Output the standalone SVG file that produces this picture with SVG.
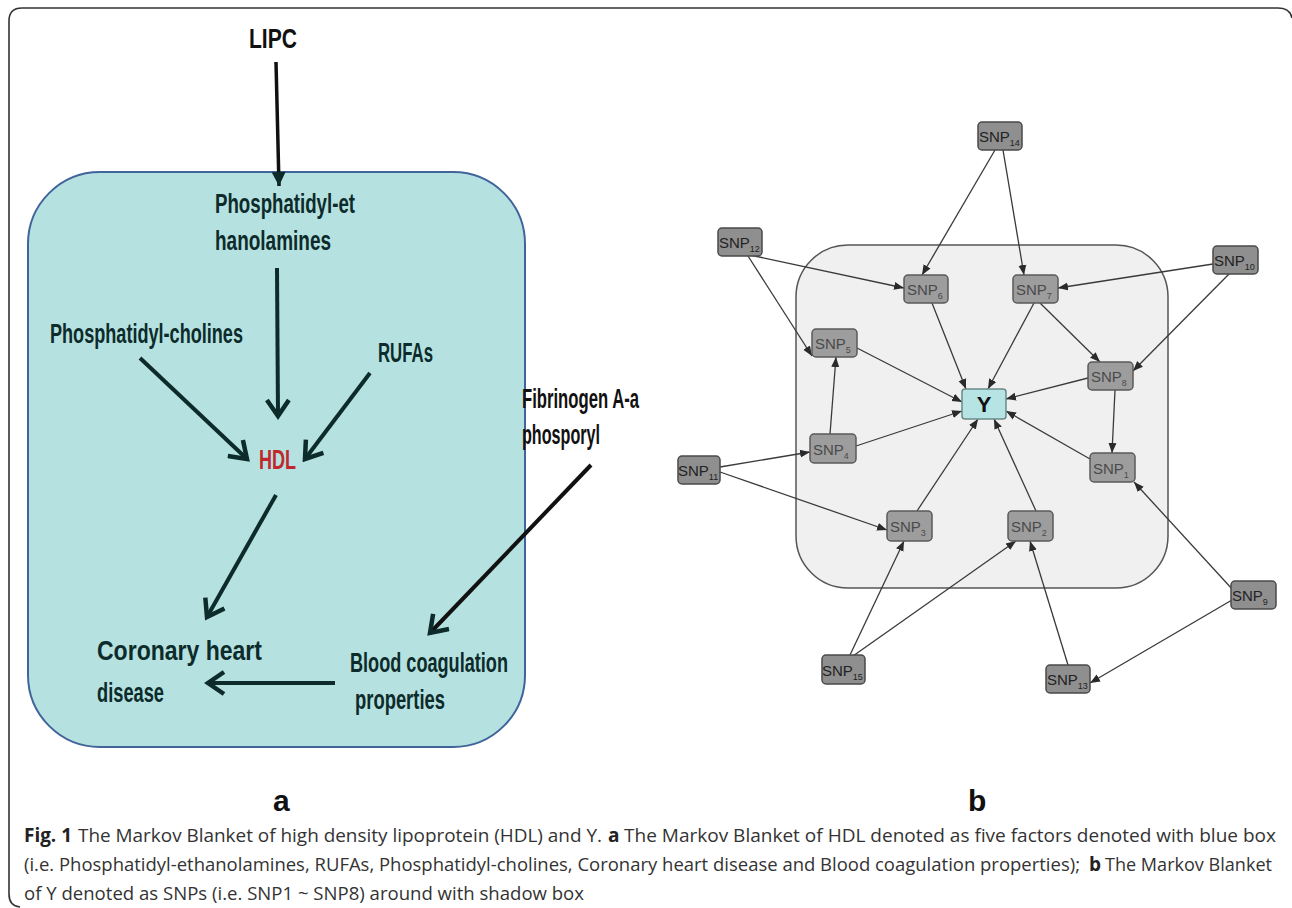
<svg xmlns="http://www.w3.org/2000/svg" width="1292" height="908" viewBox="0 0 1292 908">
<style>
.lbl{font-family:"Liberation Sans",Arial,sans-serif;font-weight:bold;font-size:27px;fill:#0d2b2b}
.arr{stroke:#0d2b2b;stroke-width:4;fill:none}
.e{stroke:#3a3a3a;stroke-width:1.3;fill:none;marker-end:url(#tri)}
.node rect{fill:#8f8f8f;stroke:#4a4a4a;stroke-width:1.5}
.inner rect{fill:#9d9d9d;stroke:#5a5a5a}
.snp{font-family:"Liberation Sans",Arial,sans-serif;font-size:15px;fill:#222}
.inner .snp{fill:#4a4a4a}
.sub{font-size:9px}
.cap{font-family:"Open Sans","Liberation Sans",sans-serif;font-size:19px;fill:#333}
.capb{font-family:"Open Sans","Liberation Sans",sans-serif;font-size:19px;font-weight:bold;fill:#222}
.panel{font-family:"Liberation Sans",Arial,sans-serif;font-weight:bold;font-size:30px;fill:#111}
</style>
<defs>
<marker id="chev" markerUnits="userSpaceOnUse" markerWidth="26" markerHeight="26" viewBox="0 0 26 26" refX="22" refY="13" orient="auto">
<path d="M6,2 L22,13 L6,24" stroke="#0d2b2b" stroke-width="4.5" fill="none"/>
</marker>
<marker id="blk" markerUnits="userSpaceOnUse" markerWidth="18" markerHeight="18" viewBox="0 0 18 18" refX="16" refY="9" orient="auto">
<path d="M2,2 L16,9 L2,16 Z" fill="#0d2b2b"/>
</marker>
<marker id="tri" markerUnits="userSpaceOnUse" markerWidth="10" markerHeight="10" viewBox="0 0 10 10" refX="10" refY="5" orient="auto">
<path d="M0,1 L10,5 L0,9 Z" fill="#2a2a2a"/>
</marker>
</defs>
<rect width="1292" height="908" fill="#ffffff"/>
<path d="M1292,18 Q1290,8 1278,8 L22,8 Q9,8 9,21 L9,894 Q9,906 20,907" fill="none" stroke="#333" stroke-width="1.6"/>

<!-- Panel a -->
<g id="blue-box"><rect x="28" y="172" width="497" height="575" rx="72" ry="72" fill="#b5e2e0" stroke="#41649a" stroke-width="2"/></g>
<g id="connectors-a">
<line x1="276" y1="62" x2="279" y2="186" stroke="#111" stroke-width="3.5" marker-end="url(#blk)"/>
<line class="arr" x1="277" y1="268" x2="278" y2="416" marker-end="url(#chev)"/>
<line class="arr" x1="140" y1="358" x2="247" y2="459" marker-end="url(#chev)"/>
<line class="arr" x1="370" y1="373" x2="305" y2="459" marker-end="url(#chev)"/>
<line class="arr" x1="276" y1="495" x2="207" y2="617" marker-end="url(#chev)"/>
<line x1="591" y1="465" x2="430" y2="633" stroke="#111" stroke-width="4" marker-end="url(#chev)"/>
<line class="arr" x1="335" y1="683" x2="208" y2="683" stroke-width="5" marker-end="url(#chev)"/>
</g>
<g id="n-lipc"><text class="lbl" x="249" y="48" style="fill:#111" textLength="48" lengthAdjust="spacingAndGlyphs">LIPC</text></g>
<g id="n-pe"><text class="lbl" x="215" y="213" textLength="140" lengthAdjust="spacingAndGlyphs">Phosphatidyl-et</text><text class="lbl" x="215" y="250" textLength="116" lengthAdjust="spacingAndGlyphs">hanolamines</text></g>
<g id="n-pc"><text class="lbl" x="50" y="343" textLength="193" lengthAdjust="spacingAndGlyphs">Phosphatidyl-cholines</text></g>
<g id="n-rufa"><text class="lbl" x="378" y="362" textLength="55" lengthAdjust="spacingAndGlyphs">RUFAs</text></g>
<g id="n-hdl"><text class="lbl" x="259" y="469" style="fill:#c1272d" textLength="37" lengthAdjust="spacingAndGlyphs">HDL</text></g>
<g id="n-fib"><text class="lbl" x="522" y="408" style="fill:#111" textLength="117" lengthAdjust="spacingAndGlyphs">Fibrinogen A-a</text><text class="lbl" x="522" y="444" style="fill:#111" textLength="78" lengthAdjust="spacingAndGlyphs">phosporyl</text></g>
<g id="n-chd"><text class="lbl" x="97" y="660" textLength="165" lengthAdjust="spacingAndGlyphs">Coronary heart</text><text class="lbl" x="97" y="702" textLength="67" lengthAdjust="spacingAndGlyphs">disease</text></g>
<g id="n-blood"><text class="lbl" x="350" y="672" textLength="158" lengthAdjust="spacingAndGlyphs">Blood coagulation</text><text class="lbl" x="355" y="709" textLength="90" lengthAdjust="spacingAndGlyphs">properties</text></g>
<text class="panel" x="273" y="811">a</text>
<text class="panel" x="968" y="811">b</text>

<!-- Panel b -->
<g id="gray-box"><rect x="796" y="245" width="372" height="343" rx="52" ry="52" fill="#f0f0f0" stroke="#555" stroke-width="1.5"/></g>
<g id="connectors-b">
<line class="e" x1="995" y1="150" x2="922" y2="275"/>
<line class="e" x1="1003" y1="150" x2="1024" y2="275"/>
<line class="e" x1="750" y1="255" x2="904" y2="288"/>
<line class="e" x1="748" y1="256" x2="812" y2="356"/>
<line class="e" x1="1213" y1="264" x2="1058" y2="288"/>
<line class="e" x1="1230" y1="273" x2="1133" y2="371"/>
<line class="e" x1="932" y1="303" x2="966" y2="389"/>
<line class="e" x1="1034" y1="303" x2="988" y2="389"/>
<line class="e" x1="1040" y1="303" x2="1100" y2="362"/>
<line class="e" x1="857" y1="348" x2="962" y2="402"/>
<line class="e" x1="830" y1="434" x2="836" y2="357"/>
<line class="e" x1="856" y1="446" x2="962" y2="411"/>
<line class="e" x1="1088" y1="378" x2="1006" y2="399"/>
<line class="e" x1="1115" y1="390" x2="1112" y2="453"/>
<line class="e" x1="720" y1="467" x2="810" y2="452"/>
<line class="e" x1="720" y1="472" x2="887" y2="530"/>
<line class="e" x1="1090" y1="459" x2="1006" y2="411"/>
<line class="e" x1="917" y1="511" x2="978" y2="419"/>
<line class="e" x1="1036" y1="511" x2="994" y2="419"/>
<line class="e" x1="850" y1="655" x2="904" y2="541"/>
<line class="e" x1="853" y1="656" x2="1016" y2="541"/>
<line class="e" x1="1068" y1="665" x2="1030" y2="541"/>
<line class="e" x1="1233" y1="590" x2="1134" y2="482"/>
<line class="e" x1="1232" y1="600" x2="1090" y2="683"/>
</g>
<g id="n-snp14" class="node"><rect x="978" y="122" width="44" height="28" rx="4"/><text class="snp" x="979" y="142">SNP<tspan class="sub" dy="4">14</tspan></text></g>
<g id="n-snp12" class="node"><rect x="718" y="228" width="44" height="28" rx="4"/><text class="snp" x="719" y="248">SNP<tspan class="sub" dy="4">12</tspan></text></g>
<g id="n-snp10" class="node"><rect x="1213" y="246" width="45" height="28" rx="4"/><text class="snp" x="1214" y="266">SNP<tspan class="sub" dy="4">10</tspan></text></g>
<g id="n-snp6" class="node inner"><rect x="904" y="275" width="44" height="28" rx="4"/><text class="snp" x="907" y="295">SNP<tspan class="sub" dy="4">6</tspan></text></g>
<g id="n-snp7" class="node inner"><rect x="1013" y="275" width="45" height="28" rx="4"/><text class="snp" x="1016" y="295">SNP<tspan class="sub" dy="4">7</tspan></text></g>
<g id="n-snp5" class="node inner"><rect x="812" y="329" width="45" height="28" rx="4"/><text class="snp" x="815" y="349">SNP<tspan class="sub" dy="4">5</tspan></text></g>
<g id="n-snp8" class="node inner"><rect x="1088" y="362" width="45" height="28" rx="4"/><text class="snp" x="1091" y="382">SNP<tspan class="sub" dy="4">8</tspan></text></g>
<g id="n-y" class="node"><rect x="962" y="389" width="44" height="30" rx="3" style="fill:#b6e3e3;stroke:#6a8a8a"/><text x="984" y="412" text-anchor="middle" font-family="Liberation Sans, Arial, sans-serif" font-weight="bold" font-size="22" fill="#111">Y</text></g>
<g id="n-snp4" class="node inner"><rect x="810" y="434" width="46" height="29" rx="4"/><text class="snp" x="813" y="455">SNP<tspan class="sub" dy="4">4</tspan></text></g>
<g id="n-snp11" class="node"><rect x="678" y="456" width="42" height="28" rx="4"/><text class="snp" x="678" y="476">SNP<tspan class="sub" dy="4">11</tspan></text></g>
<g id="n-snp1" class="node inner"><rect x="1090" y="453" width="45" height="29" rx="4"/><text class="snp" x="1093" y="474">SNP<tspan class="sub" dy="4">1</tspan></text></g>
<g id="n-snp3" class="node inner"><rect x="887" y="511" width="45" height="30" rx="4"/><text class="snp" x="890" y="532">SNP<tspan class="sub" dy="4">3</tspan></text></g>
<g id="n-snp2" class="node inner"><rect x="1008" y="511" width="45" height="30" rx="4"/><text class="snp" x="1011" y="532">SNP<tspan class="sub" dy="4">2</tspan></text></g>
<g id="n-snp9" class="node"><rect x="1231" y="581" width="45" height="28" rx="4"/><text class="snp" x="1232" y="601">SNP<tspan class="sub" dy="4">9</tspan></text></g>
<g id="n-snp15" class="node"><rect x="822" y="655" width="43" height="29" rx="4"/><text class="snp" x="822" y="676">SNP<tspan class="sub" dy="4">15</tspan></text></g>
<g id="n-snp13" class="node"><rect x="1046" y="665" width="44" height="28" rx="4"/><text class="snp" x="1047" y="685">SNP<tspan class="sub" dy="4">13</tspan></text></g>

<!-- Caption -->
<g id="caption">
<text class="capb" x="24" y="842" textLength="48" lengthAdjust="spacingAndGlyphs">Fig. 1</text>
<text class="cap" x="78" y="842" textLength="524" lengthAdjust="spacingAndGlyphs">The Markov Blanket of high density lipoprotein (HDL) and Y.</text>
<text class="capb" x="608" y="842">a</text>
<text class="cap" x="624" y="842" textLength="652" lengthAdjust="spacingAndGlyphs">The Markov Blanket of HDL denoted as five factors denoted with blue box</text>
<text class="cap" x="24" y="871" font-size="18" style="font-size:18px" textLength="1056" lengthAdjust="spacingAndGlyphs">(i.e. Phosphatidyl-ethanolamines, RUFAs, Phosphatidyl-cholines, Coronary heart disease and Blood coagulation properties);</text>
<text class="capb" x="1089" y="871">b</text>
<text class="cap" x="1105" y="871" textLength="167" lengthAdjust="spacingAndGlyphs">The Markov Blanket</text>
<text class="cap" x="24" y="900" textLength="560" lengthAdjust="spacingAndGlyphs">of Y denoted as SNPs (i.e. SNP1 ~ SNP8) around with shadow box</text>
</g>
</svg>
